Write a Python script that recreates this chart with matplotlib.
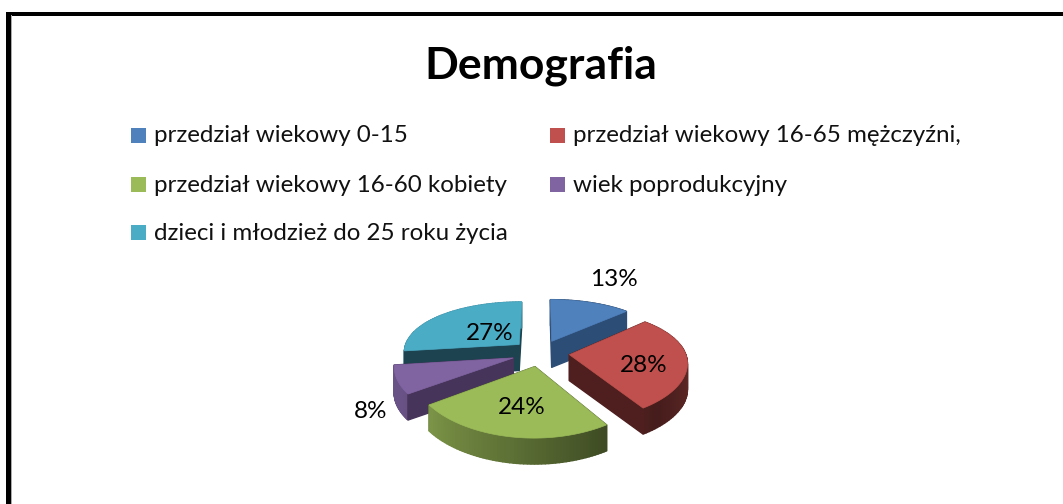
import numpy as np
import matplotlib
matplotlib.use("Agg")
import matplotlib.pyplot as plt
from matplotlib.patches import Rectangle, Polygon

title = "Demografia"
categories = ["przedział wiekowy 0-15", "przedział wiekowy 16-65 mężczyźni,",
              "przedział wiekowy 16-60 kobiety", "wiek poprodukcyjny",
              "dzieci i młodzież do 25 roku życia"]
values = [13, 28, 24, 8, 27]
top_colors = ["#4F81BD", "#C0504D", "#9BBB59", "#8064A2", "#4BACC6"]
cut_colors = ["#2C4D75", "#4E1F1E", "#4F5F2D", "#46345A", "#1D4350"]
rim_base = [(0x4F,0x81,0xBD), (0xC0,0x50,0x4D), (0x9B,0xBB,0x59), (0x80,0x64,0xA2), (0x4B,0xAC,0xC6)]
legend_xy = [(131, 135), (550, 135), (131, 184), (550, 184), (131, 232)]
label_xy = [(614, 279), (644, 366), (522, 407), (371, 412), (490, 333)]

plt.rcParams['font.family'] = ['Lato', 'DejaVu Sans']
fig = plt.figure(figsize=(10.63, 5.04), dpi=100)
ax = fig.add_axes([0, 0, 1, 1])
ax.set_xlim(0, 1063); ax.set_ylim(504, 0); ax.axis("off")

# frame
ax.add_patch(Rectangle((6, 12), 1057, 3.5, color="black", lw=0))
ax.add_patch(Rectangle((6, 12), 4.5, 492, color="black", lw=0))
ax.add_patch(Rectangle((10.5, 15), 1, 489, color="#aaaaaa", lw=0))

ax.text(541, 65.5, title, ha="center", va="center", fontsize=32, fontweight="bold", color="black")

for (x, y), c, col in zip(legend_xy, categories, top_colors):
    ax.add_patch(Rectangle((x, y - 7.5), 15, 15, color=col, lw=0))
    ax.text(x + 23, y + 1, c, ha="left", va="center", fontsize=17.35, color="#111111")

# 3D exploded pie with perspective
CX, CY, A, B, PY, PX, EX, DEPTH = 540.5, 353, 116, 53, 0.18, 0.13, 0.25, 26

def proj(X, Y):
    return CX + A * X / (1 + PX * Y), CY - B * Y / (1 + PY * Y)

def shade(theta):
    return np.interp(theta, [0, 90, 140, 190, 240, 360], [0.6, 0.55, 0.36, 0.6, 0.82, 0.82])

fr = np.array(values) / sum(values)
starts = np.concatenate([[0], np.cumsum(fr)[:-1]]) * 360
ends = np.cumsum(fr) * 360

def wedge(i):
    s, e = starts[i], ends[i]
    m = np.radians((s + e) / 2)
    ox, oy = EX * np.sin(m), EX * np.cos(m)
    th = np.linspace(s, e, 60)
    X = ox + np.sin(np.radians(th))
    Y = oy + np.cos(np.radians(th))
    sx, sy = proj(X, Y)
    ax0, ay0 = proj(np.array(ox), np.array(oy))
    return th, sx, sy, float(ax0), float(ay0)

def quad(p, q, col, z):
    ax.add_patch(Polygon([p, q, (q[0], q[1] + DEPTH), (p[0], p[1] + DEPTH)], closed=True,
                         fc=col, ec=col, lw=1.0, zorder=z))

for z, i in enumerate([0, 4, 3, 1, 2]):
    z0 = 2 + z * 10
    th, sx, sy, x0, y0 = wedge(i)
    P0 = (x0, y0)
    mx, my = sx[30] * .5 + x0 * .5, sy[30] * .5 + y0 * .5
    for q in [(sx[0], sy[0]), (sx[-1], sy[-1])]:
        # a cut face is visible when the wedge interior lies above its edge
        t = np.clip((mx - x0) / (q[0] - x0 + 1e-9), 0, 1)
        visible = my < y0 + t * (q[1] - y0) and abs(q[0] - x0) > 5
        quad(P0, q, cut_colors[i], z0 + (2 if visible else 0))
    for k in range(len(th) - 1):
        s = shade((th[k] + th[k + 1]) / 2)
        col = tuple(c / 255 * s for c in rim_base[i])
        quad((sx[k], sy[k]), (sx[k + 1], sy[k + 1]), col, z0 + 1)
    ax.add_patch(Polygon([P0] + list(zip(sx, sy)), closed=True, fc=top_colors[i],
                         ec=top_colors[i], lw=0.5, zorder=z0 + 3))

for v, (x, y) in zip(values, label_xy):
    ax.text(x, y, f"{v}%", ha="center", va="center", fontsize=17.5, color="black", zorder=100)

fig.savefig("out.png", dpi=100, facecolor="white")
